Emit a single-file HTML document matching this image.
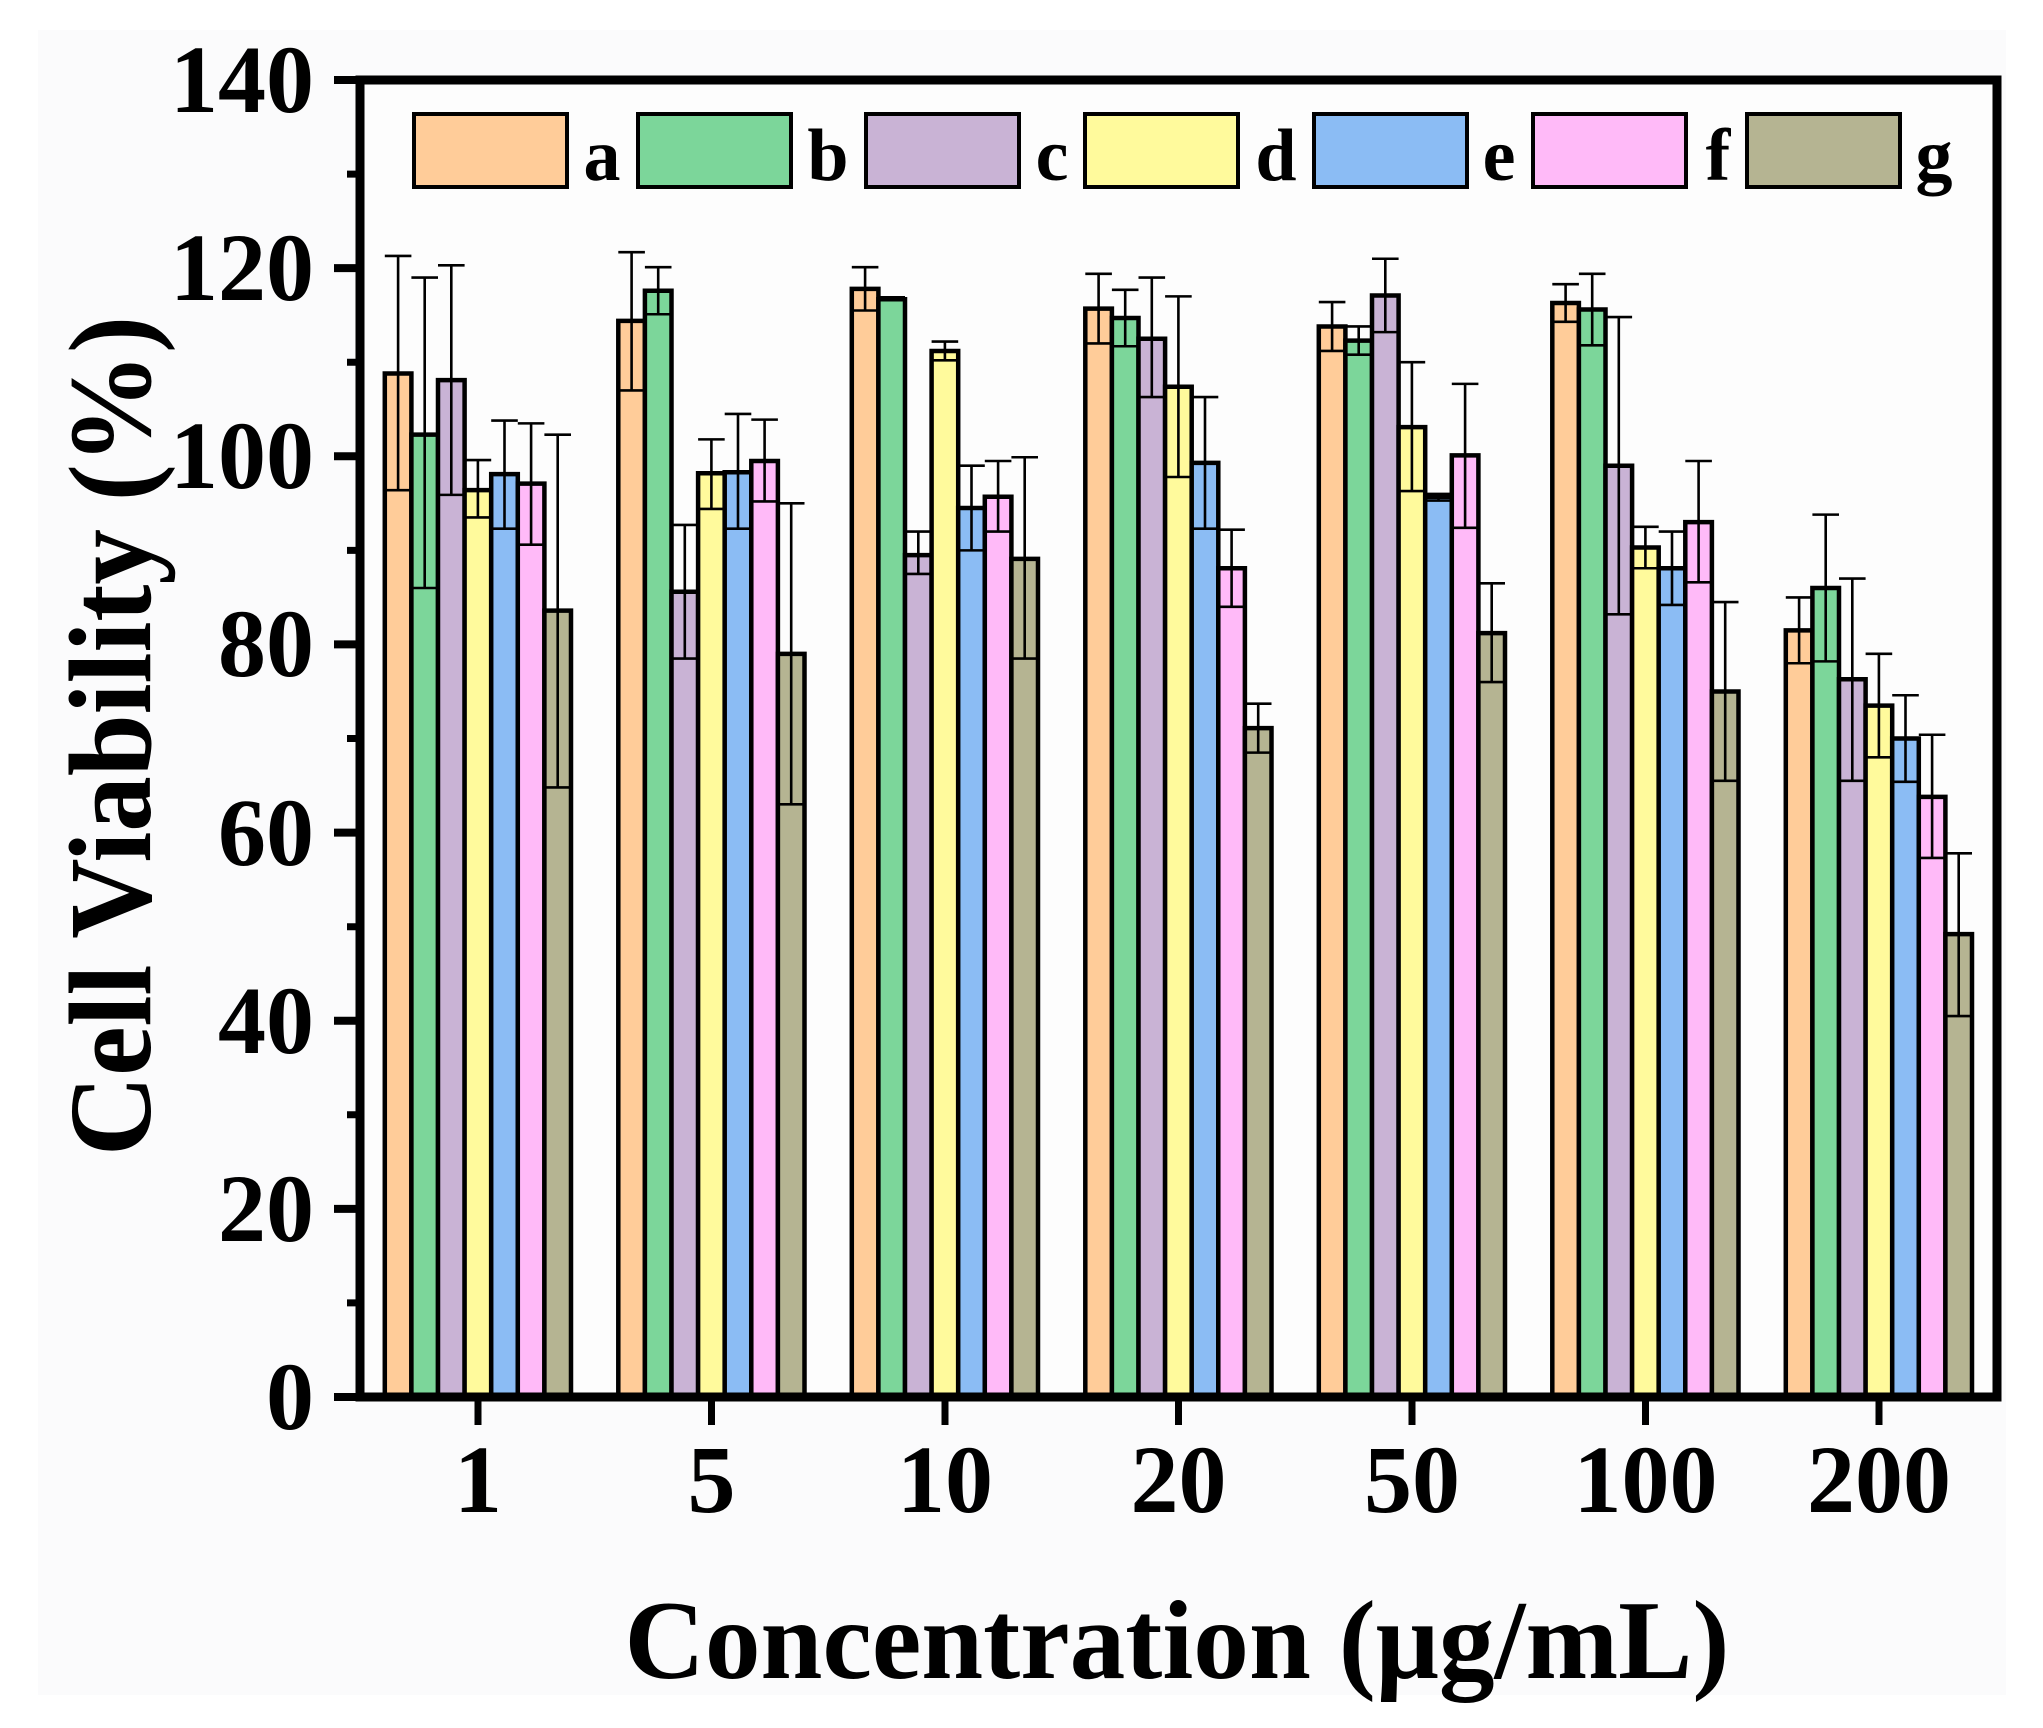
<!DOCTYPE html>
<html><head><meta charset="utf-8"><style>
html,body{margin:0;padding:0;background:#fff}
svg{display:block}
.a{fill:#FFCC99}.b{fill:#7CD69A}.c{fill:#C9B3D5}.d{fill:#FFFA9C}.e{fill:#8BBCF4}.f{fill:#FFBAF8}.g{fill:#B5B492}
.bars rect{stroke:#000;stroke-width:4.5;vector-effect:non-scaling-stroke}
.bars path{stroke:#000;stroke-width:2.6;fill:none;vector-effect:non-scaling-stroke}
text{font-family:"Liberation Serif",serif;font-weight:bold;fill:#000}
</style></head><body>
<svg width="2043" height="1728" viewBox="0 0 2043 1728" xmlns="http://www.w3.org/2000/svg">
<rect x="0" y="0" width="2043" height="1728" fill="#fff"/>
<rect x="38" y="30" width="1968" height="1665" fill="#fbfbfc"/>
<rect x="360" y="80" width="1637" height="1317" fill="#fdfdfd"/>

<g class="bars" transform="translate(0,1397) scale(1,-9.407)">
<g transform="translate(384.8,0)">
<rect class="a" x="0" y="0" width="26.6" height="108.8"/><path d="M13.3 96.4V121.3M0 121.3h26.6M0 96.4h26.6"/>
<rect class="b" x="26.6" y="0" width="26.6" height="102.3"/><path d="M39.9 86V119M26.6 119h26.6M26.6 86h26.6"/>
<rect class="c" x="53.2" y="0" width="26.6" height="108.1"/><path d="M66.5 95.9V120.3M53.2 120.3h26.6M53.2 95.9h26.6"/>
<rect class="d" x="79.8" y="0" width="26.6" height="96.4"/><path d="M93.1 93.5V99.6M79.8 99.6h26.6M79.8 93.5h26.6"/>
<rect class="e" x="106.4" y="0" width="26.6" height="98.1"/><path d="M119.7 92.3V103.8M106.4 103.8h26.6M106.4 92.3h26.6"/>
<rect class="f" x="133" y="0" width="26.6" height="97.1"/><path d="M146.3 90.6V103.5M133 103.5h26.6M133 90.6h26.6"/>
<rect class="g" x="159.6" y="0" width="26.6" height="83.6"/><path d="M172.9 64.8V102.3M159.6 102.3h26.6M159.6 64.8h26.6"/>
</g>
<g transform="translate(618.3,0)">
<rect class="a" x="0" y="0" width="26.6" height="114.4"/><path d="M13.3 107V121.7M0 121.7h26.6M0 107h26.6"/>
<rect class="b" x="26.6" y="0" width="26.6" height="117.6"/><path d="M39.9 115.1V120.1M26.6 120.1h26.6M26.6 115.1h26.6"/>
<rect class="c" x="53.2" y="0" width="26.6" height="85.6"/><path d="M66.5 78.5V92.7M53.2 92.7h26.6M53.2 78.5h26.6"/>
<rect class="d" x="79.8" y="0" width="26.6" height="98.2"/><path d="M93.1 94.4V101.8M79.8 101.8h26.6M79.8 94.4h26.6"/>
<rect class="e" x="106.4" y="0" width="26.6" height="98.3"/><path d="M119.7 92.3V104.5M106.4 104.5h26.6M106.4 92.3h26.6"/>
<rect class="f" x="133" y="0" width="26.6" height="99.5"/><path d="M146.3 95.2V103.9M133 103.9h26.6M133 95.2h26.6"/>
<rect class="g" x="159.6" y="0" width="26.6" height="79"/><path d="M172.9 63V95M159.6 95h26.6M159.6 63h26.6"/>
</g>
<g transform="translate(851.8,0)">
<rect class="a" x="0" y="0" width="26.6" height="117.8"/><path d="M13.3 115.5V120.1M0 120.1h26.6M0 115.5h26.6"/>
<rect class="b" x="26.6" y="0" width="26.6" height="116.7"/><path d="M39.9 116.5V116.9M26.6 116.9h26.6"/>
<rect class="c" x="53.2" y="0" width="26.6" height="89.5"/><path d="M66.5 87.5V92M53.2 92h26.6M53.2 87.5h26.6"/>
<rect class="d" x="79.8" y="0" width="26.6" height="111.2"/><path d="M93.1 110.2V112.2M79.8 112.2h26.6M79.8 110.2h26.6"/>
<rect class="e" x="106.4" y="0" width="26.6" height="94.5"/><path d="M119.7 90V99M106.4 99h26.6M106.4 90h26.6"/>
<rect class="f" x="133" y="0" width="26.6" height="95.7"/><path d="M146.3 92V99.5M133 99.5h26.6M133 92h26.6"/>
<rect class="g" x="159.6" y="0" width="26.6" height="89.1"/><path d="M172.9 78.5V99.9M159.6 99.9h26.6M159.6 78.5h26.6"/>
</g>
<g transform="translate(1085.3,0)">
<rect class="a" x="0" y="0" width="26.6" height="115.7"/><path d="M13.3 112V119.4M0 119.4h26.6M0 112h26.6"/>
<rect class="b" x="26.6" y="0" width="26.6" height="114.7"/><path d="M39.9 111.7V117.7M26.6 117.7h26.6M26.6 111.7h26.6"/>
<rect class="c" x="53.2" y="0" width="26.6" height="112.5"/><path d="M66.5 106.3V119M53.2 119h26.6M53.2 106.3h26.6"/>
<rect class="d" x="79.8" y="0" width="26.6" height="107.4"/><path d="M93.1 97.8V117M79.8 117h26.6M79.8 97.8h26.6"/>
<rect class="e" x="106.4" y="0" width="26.6" height="99.3"/><path d="M119.7 92.3V106.3M106.4 106.3h26.6M106.4 92.3h26.6"/>
<rect class="f" x="133" y="0" width="26.6" height="88.1"/><path d="M146.3 84V92.2M133 92.2h26.6M133 84h26.6"/>
<rect class="g" x="159.6" y="0" width="26.6" height="71.1"/><path d="M172.9 68.5V73.7M159.6 73.7h26.6M159.6 68.5h26.6"/>
</g>
<g transform="translate(1318.8,0)">
<rect class="a" x="0" y="0" width="26.6" height="113.8"/><path d="M13.3 111.2V116.4M0 116.4h26.6M0 111.2h26.6"/>
<rect class="b" x="26.6" y="0" width="26.6" height="112.3"/><path d="M39.9 110.8V113.8M26.6 113.8h26.6M26.6 110.8h26.6"/>
<rect class="c" x="53.2" y="0" width="26.6" height="117.1"/><path d="M66.5 113.2V121M53.2 121h26.6M53.2 113.2h26.6"/>
<rect class="d" x="79.8" y="0" width="26.6" height="103.1"/><path d="M93.1 96.3V110M79.8 110h26.6M79.8 96.3h26.6"/>
<rect class="e" x="106.4" y="0" width="26.6" height="95.7"/><path d="M119.7 95.3V96M106.4 96h26.6M106.4 95.3h26.6"/>
<rect class="f" x="133" y="0" width="26.6" height="100.1"/><path d="M146.3 92.4V107.7M133 107.7h26.6M133 92.4h26.6"/>
<rect class="g" x="159.6" y="0" width="26.6" height="81.2"/><path d="M172.9 76V86.5M159.6 86.5h26.6M159.6 76h26.6"/>
</g>
<g transform="translate(1552.3,0)">
<rect class="a" x="0" y="0" width="26.6" height="116.3"/><path d="M13.3 114.3V118.3M0 118.3h26.6M0 114.3h26.6"/>
<rect class="b" x="26.6" y="0" width="26.6" height="115.6"/><path d="M39.9 111.8V119.4M26.6 119.4h26.6M26.6 111.8h26.6"/>
<rect class="c" x="53.2" y="0" width="26.6" height="99"/><path d="M66.5 83.2V114.8M53.2 114.8h26.6M53.2 83.2h26.6"/>
<rect class="d" x="79.8" y="0" width="26.6" height="90.3"/><path d="M93.1 88.1V92.5M79.8 92.5h26.6M79.8 88.1h26.6"/>
<rect class="e" x="106.4" y="0" width="26.6" height="88.1"/><path d="M119.7 84.2V92M106.4 92h26.6M106.4 84.2h26.6"/>
<rect class="f" x="133" y="0" width="26.6" height="93"/><path d="M146.3 86.6V99.5M133 99.5h26.6M133 86.6h26.6"/>
<rect class="g" x="159.6" y="0" width="26.6" height="75"/><path d="M172.9 65.5V84.5M159.6 84.5h26.6M159.6 65.5h26.6"/>
</g>
<g transform="translate(1785.8,0)">
<rect class="a" x="0" y="0" width="26.6" height="81.5"/><path d="M13.3 78V85M0 85h26.6M0 78h26.6"/>
<rect class="b" x="26.6" y="0" width="26.6" height="86"/><path d="M39.9 78.2V93.8M26.6 93.8h26.6M26.6 78.2h26.6"/>
<rect class="c" x="53.2" y="0" width="26.6" height="76.3"/><path d="M66.5 65.5V87M53.2 87h26.6M53.2 65.5h26.6"/>
<rect class="d" x="79.8" y="0" width="26.6" height="73.5"/><path d="M93.1 68V79M79.8 79h26.6M79.8 68h26.6"/>
<rect class="e" x="106.4" y="0" width="26.6" height="70"/><path d="M119.7 65.4V74.6M106.4 74.6h26.6M106.4 65.4h26.6"/>
<rect class="f" x="133" y="0" width="26.6" height="63.8"/><path d="M146.3 57.3V70.4M133 70.4h26.6M133 57.3h26.6"/>
<rect class="g" x="159.6" y="0" width="26.6" height="49.2"/><path d="M172.9 40.5V57.8M159.6 57.8h26.6M159.6 40.5h26.6"/>
</g>
</g>

<g stroke="#000" fill="none">
<rect x="360" y="80" width="1637" height="1317" stroke-width="9"/>
<path stroke-width="8" d="M334 80h26M334 268.1h26M334 456.3h26M334 644.4h26M334 832.6h26M334 1020.7h26M334 1208.9h26M334 1397h26"/>
<path stroke-width="7" d="M347 174.1h13M347 362.2h13M347 550.4h13M347 738.5h13M347 926.7h13M347 1114.8h13M347 1302.9h13"/>
<path stroke-width="7" d="M478 1397v28M711.5 1397v28M945 1397v28M1178.5 1397v28M1412 1397v28M1645.5 1397v28M1879 1397v28"/>
</g>

<g stroke="#000" stroke-width="4">
<rect class="a" x="414" y="114" width="153" height="73"/>
<rect class="b" x="638" y="114" width="153" height="73"/>
<rect class="c" x="866" y="114" width="153" height="73"/>
<rect class="d" x="1085" y="114" width="153" height="73"/>
<rect class="e" x="1314" y="114" width="153" height="73"/>
<rect class="f" x="1533" y="114" width="153" height="73"/>
<rect class="g" x="1747" y="114" width="153" height="73"/>
</g>
<g font-size="74" text-anchor="middle">
<text x="602" y="180">a</text><text x="828" y="180">b</text><text x="1052" y="180">c</text>
<text x="1276" y="180">d</text><text x="1499" y="180">e</text><text x="1718" y="180">f</text><text x="1934" y="180">g</text>
</g>

<g font-size="96" text-anchor="end">
<text x="314" y="112">140</text>
<text x="314" y="300">120</text>
<text x="314" y="488">100</text>
<text x="314" y="676">80</text>
<text x="314" y="865">60</text>
<text x="314" y="1053">40</text>
<text x="314" y="1241">20</text>
<text x="314" y="1429">0</text>
</g>
<g font-size="96" text-anchor="middle">
<text x="478" y="1512">1</text>
<text x="711.5" y="1512">5</text>
<text x="945" y="1512">10</text>
<text x="1178.5" y="1512">20</text>
<text x="1412" y="1512">50</text>
<text x="1645.5" y="1512">100</text>
<text x="1879" y="1512">200</text>
</g>
<text x="1177" y="1678" font-size="112" text-anchor="middle" textLength="1105" lengthAdjust="spacingAndGlyphs">Concentration (μg/mL)</text>
<text transform="translate(150,736) rotate(-90)" font-size="118" text-anchor="middle" textLength="840" lengthAdjust="spacingAndGlyphs">Cell Viability (%)</text>
</svg>
</body></html>
